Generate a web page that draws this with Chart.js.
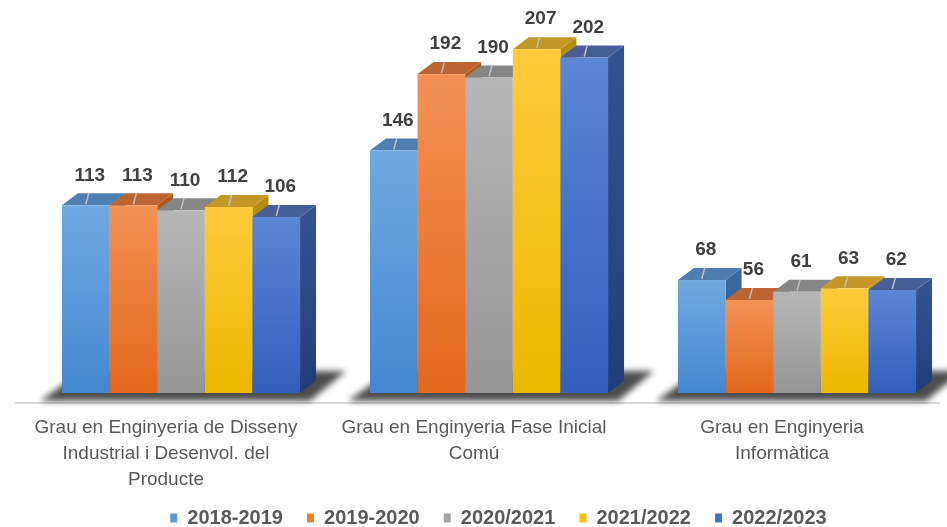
<!DOCTYPE html>
<html>
<head>
<meta charset="utf-8">
<script src="https://cdn.jsdelivr.net/npm/chart.js@4"></script>
<style>
  html, body { margin: 0; padding: 0; background: #fff; overflow: hidden; }
  #wrap { width: 990px; height: 527px; }
</style>
</head>
<body>
<div id="wrap"><canvas id="chart" width="990" height="527"></canvas></div>
<script>
// dades
const categories = [
    ["Grau en Enginyeria de Disseny", "Industrial i Desenvol. del", "Producte"],
    ["Grau en Enginyeria Fase Inicial", "Comú"],
    ["Grau en Enginyeria", "Informàtica"]
];
const seriesNames = ["2018-2019", "2019-2020", "2020/2021", "2021/2022", "2022/2023"];
const values2018 = [113, 146, 68];
const values2019 = [113, 192, 56];
const values2020 = [110, 190, 61];
const values2021 = [112, 207, 63];
const values2022 = [106, 202, 62];
const allValues = [values2018, values2019, values2020, values2021, values2022];

// colors de cada sèrie: front (dalt/baix), cara superior, cara lateral
const palette = [
    {base: "#5b9bd5", light: "#70a9e1", dark: "#4388d0", top: "#4f7eb2", side: "#3a69a0", sideDark: "#2f5a8c"},
    {base: "#ed7d31", light: "#f39256", dark: "#e2681b", top: "#bd6532", side: "#b05822", sideDark: "#9a4a1a"},
    {base: "#a5a5a5", light: "#b6b6b6", dark: "#969696", top: "#868686", side: "#777777", sideDark: "#666666"},
    {base: "#ffc000", light: "#ffcb3c", dark: "#ebb700", top: "#c39829", side: "#b58c0f", sideDark: "#a07a08"},
    {base: "#4472c4", light: "#5b86d4", dark: "#335fbc", top: "#465f97", side: "#34528f", sideDark: "#223e7a"}
];

const depthX = 16, depthY = 12;

// barres 3D dibuixades a partir dels elements de Chart.js
const bars3d = {
    id: "bars3d",
    beforeDatasetsDraw(chart) {
        const ctx = chart.ctx;
        const area = chart.chartArea;
        const metas = chart.data.datasets.map((d, i) => chart.getDatasetMeta(i));
        const base = metas[0].data[0].base;

        // línia de base
        ctx.save();
        ctx.strokeStyle = "#d9d9d9";
        ctx.lineWidth = 2;
        ctx.beginPath();
        ctx.moveTo(area.left - 12, base + 10);
        ctx.lineTo(area.right - 11, base + 10);
        ctx.stroke();
        ctx.restore();

        for (let j = 0; j < chart.data.labels.length; j++) {
            const first = metas[0].data[j];
            const last = metas[metas.length - 1].data[j];
            const left = first.x - first.width / 2;
            const right = last.x + last.width / 2;

            // ombra del terra
            ctx.save();
            ctx.filter = "blur(3px)";
            ctx.fillStyle = "#4d4d4d";
            ctx.beginPath();
            ctx.moveTo(left - 22, base + 8);
            ctx.lineTo(right + 10, base + 8);
            ctx.lineTo(right + 46, base - 22);
            ctx.lineTo(left + 20, base - 22);
            ctx.closePath();
            ctx.fill();
            ctx.restore();

            metas.forEach((meta, i) => {
                const bar = meta.data[j];
                const c = palette[i];
                const x0 = bar.x - bar.width / 2;
                const x1 = bar.x + bar.width / 2;
                const top = bar.y;

                // cara lateral
                const gs = ctx.createLinearGradient(0, top, 0, base);
                gs.addColorStop(0, c.side);
                gs.addColorStop(1, c.sideDark);
                ctx.fillStyle = gs;
                ctx.beginPath();
                ctx.moveTo(x1, top);
                ctx.lineTo(x1 + depthX, top - depthY);
                ctx.lineTo(x1 + depthX, base - depthY);
                ctx.lineTo(x1, base);
                ctx.closePath();
                ctx.fill();

                // cara superior
                ctx.fillStyle = c.top;
                ctx.beginPath();
                ctx.moveTo(x0, top);
                ctx.lineTo(x0 + depthX, top - depthY);
                ctx.lineTo(x1 + depthX, top - depthY);
                ctx.lineTo(x1, top);
                ctx.closePath();
                ctx.fill();

                // cara frontal
                const g = ctx.createLinearGradient(0, top, 0, base);
                g.addColorStop(0, c.light);
                g.addColorStop(1, c.dark);
                ctx.fillStyle = g;
                ctx.fillRect(x0, top, x1 - x0, base - top);
            });
        }
        return false;
    },
    afterDraw(chart) {
        const ctx = chart.ctx;
        chart.data.datasets.forEach((ds, i) => {
            chart.getDatasetMeta(i).data.forEach((bar, j) => {
                const top = bar.y;
                // línia guia
                ctx.save();
                ctx.strokeStyle = "#bfbfbf";
                ctx.lineWidth = 1.5;
                ctx.beginPath();
                ctx.moveTo(bar.x, top - 1);
                ctx.lineTo(bar.x + 3, top - 12);
                ctx.stroke();
                // etiqueta
                ctx.fillStyle = "#404040";
                ctx.font = "bold 19px 'Liberation Sans', Arial, sans-serif";
                ctx.textAlign = "center";
                ctx.textBaseline = "middle";
                ctx.fillText(ds.data[j], bar.x + 4, top - 30);
                ctx.restore();
            });
        });
    }
};

const datasets = seriesNames.map((name, i) => ({
    label: name,
    data: allValues[i],
    backgroundColor: palette[i].base,
    borderWidth: 0
}));

new Chart(document.getElementById("chart"), {
    type: "bar",
    data: {labels: categories, datasets: datasets},
    options: {
        responsive: false,
        animation: false,
        layout: {padding: {left: 27, right: 9, top: 11, bottom: -11}},
        datasets: {bar: {categoryPercentage: 0.773, barPercentage: 1}},
        plugins: {
            tooltip: {enabled: false},
            legend: {
                position: "bottom",
                labels: {
                    boxWidth: 7,
                    boxHeight: 9,
                    padding: 13,
                    color: "#595959",
                    font: {family: "'Liberation Sans', Arial, sans-serif", size: 20, weight: "bold"},
                    // una mica més d'espai entre elements
                    generateLabels(chart) {
                        const items = Chart.defaults.plugins.legend.labels.generateLabels(chart);
                        items.forEach(it => { it.text = it.text + "  "; });
                        return items;
                    }
                }
            }
        },
        scales: {
            x: {
                grid: {display: false, drawTicks: false},
                border: {display: false},
                ticks: {
                    color: "#595959",
                    padding: 22,
                    labelOffset: -15,
                    maxRotation: 0,
                    autoSkip: false,
                    font: {family: "'Liberation Sans', Arial, sans-serif", size: 19, lineHeight: 1.37}
                },
                afterFit(scale) { scale.height = 102; }
            },
            // eix invisible a la dreta: només reserva espai
            y: {
                position: "right",
                min: 0,
                max: 230,
                ticks: {display: false},
                grid: {display: false},
                border: {display: false},
                afterFit(scale) { scale.width = 30; }
            }
        }
    },
    plugins: [bars3d]
});
</script>
</body>
</html>
